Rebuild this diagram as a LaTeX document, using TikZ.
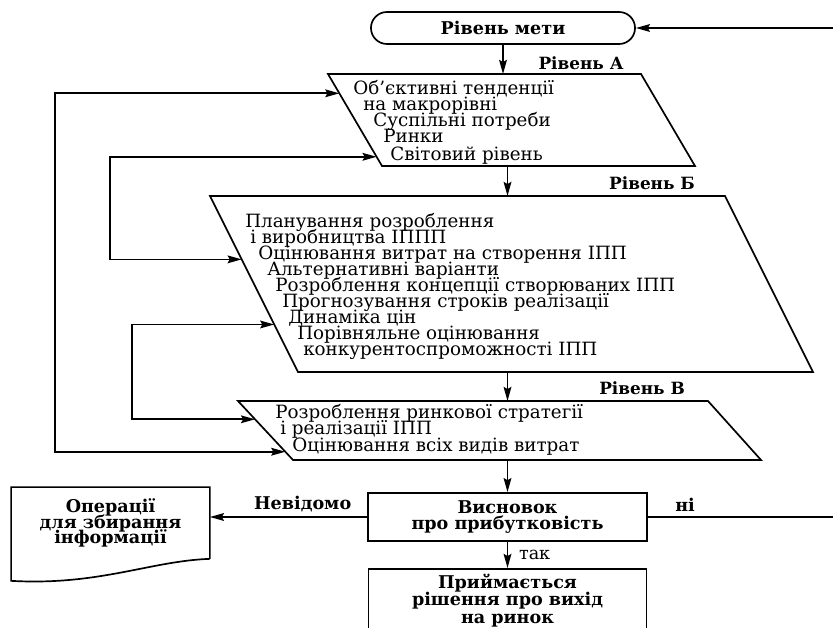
\documentclass[tikz,border=0pt]{standalone}
\usepackage{fontspec}
\setmainfont{DejaVu Serif}
\usepackage{tikz}
\usetikzlibrary{positioning}
\usetikzlibrary{arrows.meta}
\usetikzlibrary{calc}
\newcommand{\tightskip}{\lineskiplimit=-20pt\relax}

\begin{document}
\begin{tikzpicture}[x=0.025cm, y=-0.025cm,
    >={Stealth[length=10pt,width=5.5pt,inset=1.5pt]},
    line/.style={line width=1.2pt},
    lvl/.style={font=\fontsize{12}{14}\selectfont\bfseries},
    body/.style={align=left, inner sep=0pt, anchor=base west, font=\fontsize{13}{11.4}\selectfont\tightskip},
    blk/.style={draw, line, align=center, font=\fontsize{12.5}{12}\selectfont\bfseries\tightskip}]
    \useasboundingbox (0,0) rectangle (833,628);

    \node[blk, rounded corners=0.4cm, minimum width=6.6cm, minimum height=0.8cm] (goal) at (503,28) {Рівень мети};

    \coordinate (A1) at (328,74);
    \coordinate (A2) at (641,74);
    \coordinate (A3) at (695,166);
    \coordinate (A4) at (382,166);
    \draw[line] (A1) -- (A2) -- (A3) -- (A4) -- cycle;
    \node[body] (atext) at (353,161) {Об’єктивні тенденції\\
        \hspace*{0.25cm}на макрорівні\\
        \hspace*{0.5cm}Суспільні потреби\\
        \hspace*{0.75cm}Ринки\\[2pt]
        \hspace*{0.925cm}Світовий рівень};

    \coordinate (B1) at (210,196);
    \coordinate (B2) at (725,196);
    \coordinate (B3) at (813,372);
    \coordinate (B4) at (298,372);
    \draw[line] (B1) -- (B2) -- (B3) -- (B4) -- cycle;
    \node[body] (btext) at (245,356) {Планування розроблення\\
        \hspace*{0.125cm}і виробництва ІППП\\
        \hspace*{0.325cm}Оцінювання витрат на створення ІПП\\
        \hspace*{0.55cm}Альтернативні варіанти\\
        \hspace*{0.75cm}Розроблення концепції створюваних ІПП\\
        \hspace*{0.925cm}Прогнозування строків реалізації\\
        \hspace*{1.075cm}Динаміка цін\\
        \hspace*{1.3cm}Порівняльне оцінювання\\
        \hspace*{1.45cm}конкурентоспроможності ІПП};

    \coordinate (C1) at (238,401);
    \coordinate (C2) at (708,401);
    \coordinate (C3) at (761,460);
    \coordinate (C4) at (293,460);
    \draw[line] (C1) -- (C2) -- (C3) -- (C4) -- cycle;
    \node[body] (ctext) at (275,451) {Розроблення ринкової стратегії\\
        \hspace*{0.125cm}і реалізації ІПП\\
        \hspace*{0.425cm}Оцінювання всіх видів витрат};

    \node[lvl] (lvla) at (581,63) {Рівень А};
    \node[lvl] (lvlb) at (652,183) {Рівень Б};
    \node[lvl] (lvlc) at (642,388) {Рівень В};

    \node[blk, minimum width=6.975cm, minimum height=1.2cm] (verdict) at (507.5,517) {Висновок\\про прибутковість};
    \node[blk, anchor=north, minimum width=6.95cm, inner ysep=0.14cm, font=\fontsize{12.5}{12.2}\selectfont\bfseries\tightskip] (exit) at (507.5,568) {Приймається\\рішення про вихід\\на ринок};
    \node[blk, draw=none, minimum width=4.925cm, minimum height=1.75cm, font=\fontsize{12.5}{11}\selectfont\bfseries\tightskip] (info) at (110.5,523) {Операції\\для збирання\\інформації};
    \draw[line] (info.south east) -- (info.north east) -- (info.north west) -- ($(info.south west)+(0,22)$)
        .. controls +(88,5) and +(-59,2) .. (info.south east);

    \coordinate (L1) at (55,0);
    \coordinate (L2) at (110,0);
    \coordinate (L3) at (132,0);
    \coordinate (rt) at (834,0);
    \coordinate (pa1) at ($(A1)!.21!(A4)$);
    \coordinate (pa2) at ($(A1)!.90!(A4)$);
    \coordinate (pb1) at ($(B1)!.36!(B4)$);
    \coordinate (pb2) at ($(B1)!.73!(B4)$);
    \coordinate (pc1) at ($(C1)!.31!(C4)$);
    \coordinate (pc2) at ($(C1)!.86!(C4)$);

    \draw[->, line] (goal) -- (goal |- A1);
    \draw[->, line] (A4 -| verdict) -- (B1 -| verdict);
    \draw[->, line] (B4 -| verdict) -- (C1 -| verdict);
    \draw[->, line] (C4 -| verdict) -- (verdict);
    \draw[->, line] (verdict) -- node[right=0.15cm, font=\fontsize{12.5}{12}\selectfont] {так} (exit);
    \draw[->, line] (verdict.west) -- node[pos=.41, above, font=\fontsize{12.5}{12}\selectfont\bfseries] {Невідомо} (verdict.west -| info.east);
    \draw[->, line] (verdict.east) -- node[pos=.2, above, font=\fontsize{12.5}{12}\selectfont\bfseries] {ні} (verdict.east -| rt) |- (goal.east);
    \draw[<->, line] (pa1) -- (pa1 -| L1) |- (pc2);
    \draw[<->, line] (pa2) -- (pa2 -| L2) |- (pb1);
    \draw[<->, line] (pb2) -- (pb2 -| L3) |- (pc1);
\end{tikzpicture}
\end{document}
